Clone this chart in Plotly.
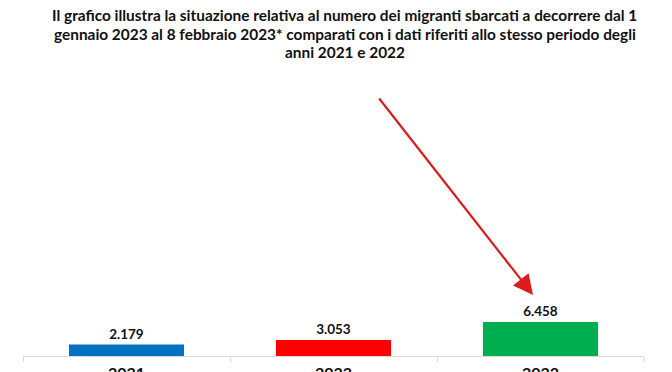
import plotly.graph_objects as go

years = ["2021", "2022", "2023"]
migrants = [2179, 3053, 6458]
colors = ["#0070C0", "#FF0000", "#00B050"]
title_lines = [
    "Il grafico illustra la situazione relativa al numero dei migranti sbarcati a decorrere dal 1",
    "gennaio 2023 al 8 febbraio 2023* comparati con i dati riferiti allo stesso periodo degli",
    "anni 2021 e 2022",
]

FONT = "Lato, sans-serif"
TXT = "#111111"

fig = go.Figure(
    go.Bar(
        x=years,
        y=migrants,
        marker=dict(color=colors, line=dict(width=0)),
        width=0.556,
        text=["<b>" + f"{v:,}".replace(",", ".") + "</b>" for v in migrants],
        textposition="outside",
        textfont=dict(family=FONT, size=13.5, color=TXT),
        cliponaxis=False,
        hoverinfo="skip",
    )
)

annotations = []
title_shifts = [65, 46.5, 28]
for line, ys in zip(title_lines, title_shifts):
    annotations.append(
        dict(
            text="<b>" + line + "</b>",
            xref="paper",
            yref="paper",
            x=0.5,
            y=1,
            xshift=11,
            yshift=ys,
            xanchor="center",
            yanchor="middle",
            showarrow=False,
            font=dict(family=FONT, size=15.4, color=TXT),
        )
    )

# category labels (axis category index positions)
for idx, yr in enumerate(years):
    annotations.append(
        dict(
            text="<b>" + yr + "</b>",
            xref="x",
            yref="paper",
            x=idx,
            y=0,
            yshift=-5,
            xanchor="center",
            yanchor="top",
            showarrow=False,
            font=dict(family=FONT, size=16, color=TXT),
        )
    )

annotations.append(
    dict(
        text="",
        xref="paper",
        yref="paper",
        x=(533 - 23) / 621,
        y=(356 - 295) / 276,
        ax=-155,
        ay=-198,
        axref="pixel",
        ayref="pixel",
        showarrow=True,
        arrowhead=2,
        arrowsize=1.8,
        arrowwidth=2.2,
        arrowcolor="#DC1C1C",
        standoff=0,
    )
)

fig.update_layout(
    width=672,
    height=372,
    margin=dict(l=23, r=28, t=80, b=16),
    paper_bgcolor="white",
    plot_bgcolor="white",
    showlegend=False,
    font=dict(family=FONT),
    xaxis=dict(
        type="category",
        range=[-0.5, 2.5],
        autorange=False,
        automargin=False,
        showline=True,
        linecolor="#D9D9D9",
        linewidth=1,
        ticks="outside",
        tickson="boundaries",
        ticklen=5,
        tickcolor="#D9D9D9",
        showgrid=False,
        showticklabels=False,
        fixedrange=True,
    ),
    yaxis=dict(
        range=[0, 52420],
        autorange=False,
        visible=False,
        showgrid=False,
        zeroline=False,
        fixedrange=True,
        automargin=False,
    ),
    annotations=annotations,
)

fig.write_html(
    "out.html",
    config={"displayModeBar": False},
    post_script="document.body.style.margin='0';document.body.style.padding='0';",
)
